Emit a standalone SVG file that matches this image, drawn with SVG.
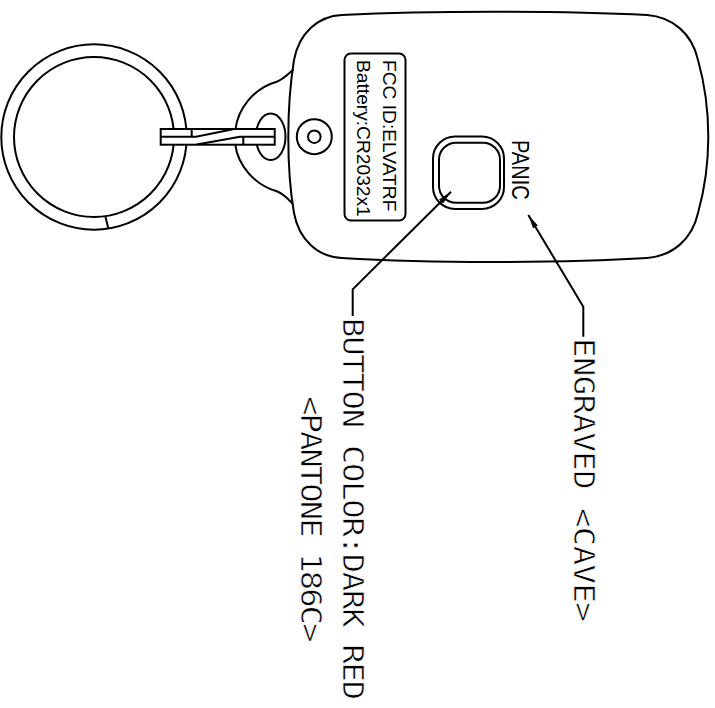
<svg xmlns="http://www.w3.org/2000/svg" width="715" height="708" viewBox="0 0 715 708">
  <defs>
    <marker id="tip" viewBox="0 0 14 6" refX="14" refY="3" markerWidth="14" markerHeight="6" markerUnits="userSpaceOnUse" orient="auto-start-reverse">
      <path d="M0 3L14 0.2V5.8Z" transform="rotate(180 7 3)" fill="#000" stroke="none"/>
    </marker>
  </defs>
  <style>
    .l{fill:none;stroke:#000;stroke-width:2}
    .w{fill:#fff;stroke:#000;stroke-width:2}
    .s{font-family:"Liberation Sans",Arial,sans-serif;fill:#000}
    .c{font-family:"DejaVu Sans Mono",monospace;font-size:28px;fill:#000;stroke:#fff;stroke-width:.6}
  </style>
  <rect width="715" height="708" fill="#fff"/>
  <g id="ring">
    <circle class="l" cx="94" cy="137" r="92.7"/>
    <circle class="l" cx="94" cy="137" r="80"/>
    <path class="l" d="M105.3 216L108.3 228.5"/>
  </g>
  <g id="body">
    <path class="l" d="M293.5 69.5C288 74 284 79 276.7 81.7C255 88 238 107 235.3 130V144.7C238 166 255 185 276.7 191.3C284 194 288 199 293 204"/>
    <path class="l" d="M294 60C299 33 318 16 342 15C392 12.5 440 11.7 493 11.7C546 11.7 600 12.5 647 15C672 17 692 33 698 60C705 85 708.3 110 708.3 136.7C708.3 163 705 188 698 213C692 240 672 256 647 258C600 261 546 262 493 262C440 262 392 261 342 258C318 257 299 240 294 213C290 190 288.3 160 288.3 136.7C288.3 112 290 85 294 60Z"/>
    <ellipse class="l" cx="270.7" cy="136.7" rx="14.8" ry="23.3"/>
    <circle class="l" cx="314.3" cy="136.7" r="17.5"/>
    <circle class="l" cx="314.3" cy="136.7" r="6.3"/>
  </g>
  <g id="clip">
    <rect class="w" x="160.7" y="129" width="114" height="15.7"/>
    <path class="l" d="M160.7 136.8H196L233 129.2M191.7 129V136.8M196.7 144.5L240 136.8H274.7M243.3 136.8V144.7"/>
  </g>
  <g id="label-plate">
    <rect class="l" x="344.5" y="53.5" width="61" height="167" rx="6.5"/>
    <text class="s" font-size="19.2" transform="translate(383.3 60) rotate(90)">FCC ID:ELVATRF</text>
    <text class="s" font-size="19.2" transform="translate(357.3 60) rotate(90)">Battery:CR2032x1</text>
  </g>
  <g id="button">
    <rect class="l" x="433" y="136.5" width="71" height="72.5" rx="22"/>
    <rect class="l" x="439" y="142.7" width="61" height="60" rx="17"/>
  </g>
  <g id="panic">
    <text class="s" font-size="20" transform="translate(511.5 140) rotate(90) scale(1 1.15)">PANIC</text>
  </g>
  <g id="connectors">
    <path class="l" marker-end="url(#tip)" d="M352.7 316V289.3L451 191.7"/>
    <path class="l" marker-end="url(#tip)" d="M583.3 336.7V306.7L528.3 215"/>
  </g>
  <g id="notes">
    <text class="c" letter-spacing="-1.08" transform="translate(342.5 318) rotate(90) scale(1.15 1)">BUTTON COLOR:DARK RED</text>
    <text class="c" letter-spacing="-1.66" transform="translate(300.7 396) rotate(90) scale(1.15 1)">&lt;PANTONE 186C&gt;</text>
    <text class="c" letter-spacing="-0.43" transform="translate(573.5 338) rotate(90) scale(1.15 1)">ENGRAVED &lt;CAVE&gt;</text>
  </g>
</svg>
